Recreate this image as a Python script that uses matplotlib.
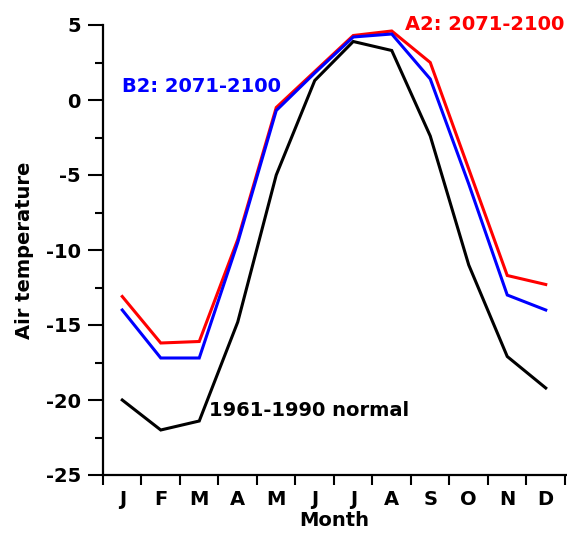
import matplotlib
matplotlib.use("Agg")
import matplotlib.pyplot as plt
from matplotlib.ticker import MultipleLocator, FixedLocator

# monthly air temperature
months = ['J', 'F', 'M', 'A', 'M', 'J', 'J', 'A', 'S', 'O', 'N', 'D']
normal_1961_1990 = [-20.0, -22.0, -21.4, -14.8, -5.0, 1.3, 3.9, 3.3, -2.4, -11.0, -17.1, -19.2]
b2_2071_2100 = [-14.0, -17.2, -17.2, -9.5, -0.7, 1.8, 4.2, 4.4, 1.4, -5.6, -13.0, -14.0]
a2_2071_2100 = [-13.1, -16.2, -16.1, -9.3, -0.5, 1.9, 4.3, 4.6, 2.5, -4.6, -11.7, -12.3]

x = list(range(1, 13))

plt.rcParams['font.family'] = 'DejaVu Sans'
plt.rcParams['font.weight'] = 'bold'
plt.rcParams['axes.unicode_minus'] = False

fig = plt.figure(figsize=(5.67, 5.4), dpi=100)
ax = fig.add_axes([103/567, 65/540, 462/567, 450/540])

ax.plot(x, normal_1961_1990, color='black', lw=2.2, solid_joinstyle='miter')
ax.plot(x, a2_2071_2100, color='#ff0000', lw=2.2, solid_joinstyle='miter')
ax.plot(x, b2_2071_2100, color='#0000ff', lw=2.2, solid_joinstyle='miter')

ax.set_xlim(0.5, 12.5)
ax.set_ylim(-25, 5)

#Spines:
for s in ['top', 'right']:
    ax.spines[s].set_visible(False)
for s in ['left', 'bottom']:
    ax.spines[s].set_linewidth(1.6)
ax.spines['bottom'].set_bounds(0.5, 12.6)

#x-axis: labels at months, ticks between
ax.xaxis.set_major_locator(FixedLocator(x))
ax.set_xticklabels(months)
ax.xaxis.set_minor_locator(FixedLocator([i + 0.5 for i in range(13)]))
ax.tick_params(axis='x', which='major', length=0, pad=11, labelsize=14)
ax.tick_params(axis='x', which='minor', length=7, width=1.5, direction='out')

#y-axis:
ax.yaxis.set_major_locator(MultipleLocator(5))
ax.yaxis.set_minor_locator(MultipleLocator(2.5))
ax.tick_params(axis='y', which='major', length=11, width=1.5, pad=5, labelsize=14)
ax.tick_params(axis='y', which='minor', length=6, width=1.5)

ax.set_xlabel('Month', fontsize=14, fontweight='bold', labelpad=1)
ax.set_ylabel('Air temperature', fontsize=14, fontweight='bold', labelpad=8)

#Series labels:
ax.text(1.0, 0.9, 'B2: 2071-2100', color='#0000ff', fontsize=14, fontweight='bold',
        va='center', ha='left')
ax.text(8.35, 5.0, 'A2: 2071-2100', color='#ff0000', fontsize=14, fontweight='bold',
        va='center', ha='left', clip_on=False)
ax.text(3.25, -20.7, '1961-1990 normal', color='black', fontsize=14, fontweight='bold',
        va='center', ha='left')

fig.savefig('out.png', dpi=100)
